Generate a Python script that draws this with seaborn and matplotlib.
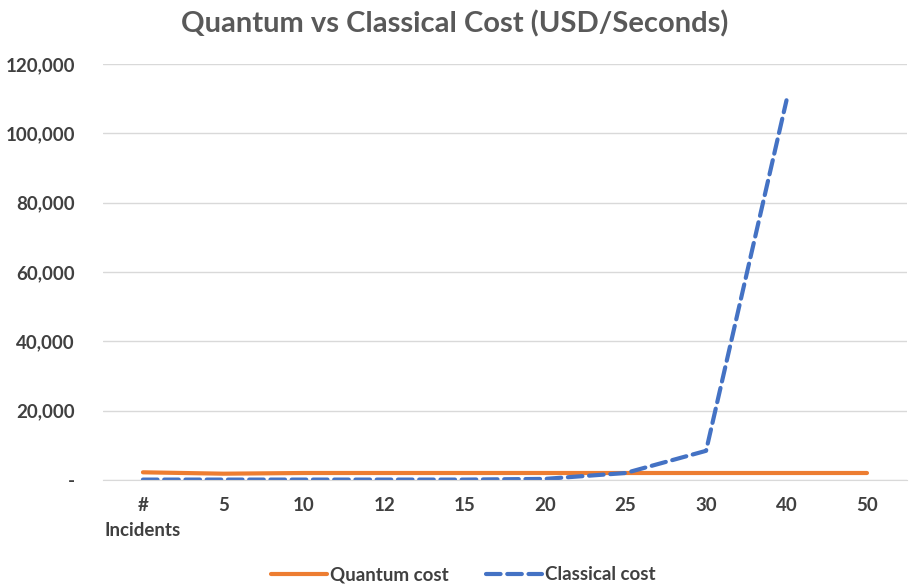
import numpy as np
import pandas as pd
import matplotlib
matplotlib.use('Agg')
import matplotlib.pyplot as plt
from matplotlib.ticker import FuncFormatter
import seaborn as sns

# chart data
incidents = ['#\nIncidents', '5', '10', '12', '15', '20', '25', '30', '40', '50']
quantum_cost = [2200, 1800, 2000, 2000, 2000, 2000, 2000, 2000, 2000, 2000]
classical_cost = [100, 100, 100, 100, 100, 300, 2000, 8400, 109500, np.nan]

sns.set_style('white')
plt.rcParams['font.family'] = ['Lato', 'DejaVu Sans']

df = pd.DataFrame({'Incidents': incidents,
                   'Quantum cost': quantum_cost,
                   'Classical cost': classical_cost})
df['pos'] = np.arange(len(df))

fig = plt.figure(figsize=(9.09, 5.86), dpi=100)
ax = fig.add_axes([0.113, 0.181, 0.885, 0.710])

sns.lineplot(data=df, x='pos', y='Quantum cost', color='#ED7D31', linewidth=3,
             label='Quantum cost', ax=ax)
sns.lineplot(data=df, x='pos', y='Classical cost', color='#4472C4', linewidth=3,
             label='Classical cost', ax=ax)
ax.lines[1].set_dashes([3.5, 1.6])
ax.lines[0].set_solid_capstyle('round')
ax.lines[1].set_dash_capstyle('round')

ax.set_xlim(-0.5, len(incidents) - 0.5)
ax.set_ylim(0, 120000)
ax.set_yticks(np.arange(0, 120001, 20000))
ax.yaxis.set_major_formatter(FuncFormatter(lambda v, p: '-' if v == 0 else f'{int(v):,}'))
ax.set_xticks(df['pos'])
ax.set_xticklabels(incidents, linespacing=1.6, va='top')

ax.grid(axis='y', color='#d9d9d9', linewidth=1)
for s in ['top', 'right', 'left']:
    ax.spines[s].set_visible(False)
ax.spines['bottom'].set_color('#d9d9d9')
ax.tick_params(axis='both', length=0, labelsize=13.5, labelcolor='#404040')
ax.tick_params(axis='x', pad=12)
ax.tick_params(axis='y', pad=20)
for t in ax.get_xticklabels() + ax.get_yticklabels():
    t.set_fontweight('bold')
ax.set_xlabel('')
ax.set_ylabel('')

fig.suptitle('Quantum vs Classical Cost (USD/Seconds)', x=0.5, y=0.982,
             fontsize=21, fontweight='bold', color='#595959')

ax.legend(loc='center', bbox_to_anchor=(0.448, -0.228), ncol=2, frameon=False,
          prop={'size': 13.5, 'weight': 'bold'}, handlelength=3.0, columnspacing=2.0,
          handletextpad=0.15, labelcolor='#404040')

fig.savefig('out.png', dpi=100)
